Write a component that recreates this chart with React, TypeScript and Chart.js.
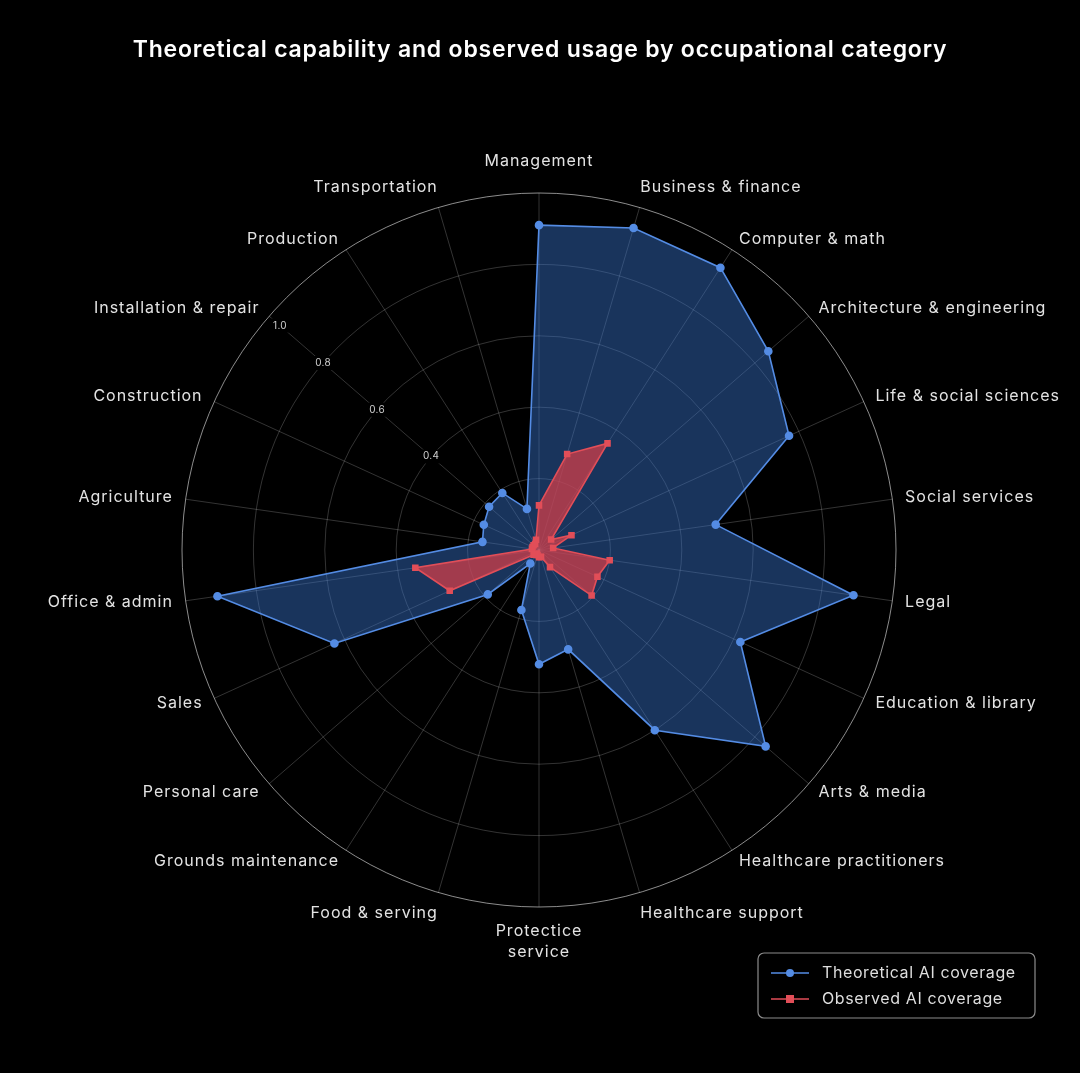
import { useEffect, useRef } from "react";
import { Chart, registerables } from "chart.js";

Chart.register(...registerables);

const titleText = "Theoretical capability and observed usage by occupational category";

const categories: (string | string[])[] = [
  "Management",
  "Business & finance",
  "Computer & math",
  "Architecture & engineering",
  "Life & social sciences",
  "Social services",
  "Legal",
  "Education & library",
  "Arts & media",
  "Healthcare practitioners",
  "Healthcare support",
  ["Protectice", "service"],
  "Food & serving",
  "Grounds maintenance",
  "Personal care",
  "Sales",
  "Office & admin",
  "Agriculture",
  "Construction",
  "Installation & repair",
  "Production",
  "Transportation",
];

const theoretical = [
  0.91, 0.94, 0.94, 0.85, 0.77, 0.5, 0.89, 0.62, 0.84, 0.6, 0.29, 0.32, 0.175,
  0.045, 0.19, 0.63, 0.91, 0.16, 0.17, 0.185, 0.19, 0.12,
];

const observed = [
  0.125, 0.28, 0.355, 0.045, 0.1, 0.04, 0.2, 0.18, 0.195, 0.057, 0.02, 0.02,
  0.015, 0.012, 0.02, 0.275, 0.35, 0.02, 0.02, 0.02, 0.02, 0.03,
];

const tickValues = [0.4, 0.6, 0.8, 1.0];
const tickLabels = ["0.4", "0.6", "0.8", "1.0"];
const seriesNames = ["Theoretical AI coverage", "Observed AI coverage"];

const BLUE = "rgb(84,140,228)";
const BLUE_FILL = "rgba(55,115,205,0.45)";
const RED = "rgb(226,78,88)";
const RED_FILL = "rgba(215,62,72,0.72)";
const FONT = "Inter, 'Noto Sans', sans-serif";

const setSpacing = (ctx: any, v: string) => {
  if ("letterSpacing" in ctx) ctx.letterSpacing = v;
};

const decorPlugin = {
  id: "decor",
  afterDraw(chart: any) {
    const ctx: CanvasRenderingContext2D = chart.ctx;
    const scale = chart.scales.r;
    const n = categories.length;
    ctx.save();

    // title
    ctx.font = `600 23px ${FONT}`;
    setSpacing(ctx, "0.8px");
    ctx.fillStyle = "#ffffff";
    ctx.textAlign = "center";
    ctx.textBaseline = "middle";
    ctx.fillText(titleText, chart.width / 2, 50);

    // point labels
    const R = scale.drawingArea * 1.036;
    ctx.font = `16px ${FONT}`;
    setSpacing(ctx, "1px");
    ctx.fillStyle = "#e3e3e3";
    ctx.textBaseline = "middle";
    const lh = 21;
    categories.forEach((lab, i) => {
      const p = scale.getPointPosition(i, R);
      const ang = (2 * Math.PI * i) / n;
      const s = Math.sin(ang);
      const c = Math.cos(ang);
      const lines = Array.isArray(lab) ? lab : [lab];
      if (Math.abs(s) < 1e-6) {
        ctx.textAlign = "center";
        if (c > 0) {
          const yLast = p.y - 19;
          lines.forEach((t, k) => ctx.fillText(t, p.x, yLast - (lines.length - 1 - k) * lh));
        } else {
          const yFirst = p.y + 11;
          lines.forEach((t, k) => ctx.fillText(t, p.x, yFirst + k * lh));
        }
      } else {
        ctx.textAlign = s > 0 ? "left" : "right";
        const yc = p.y - (Math.abs(c) > 0.9 ? Math.sign(c) * 8 : 0);
        const xx = p.x + (Math.abs(c) > 0.9 ? Math.sign(s) * -3 : 0);
        lines.forEach((t, k) => ctx.fillText(t, xx, yc + (k - (lines.length - 1) / 2) * lh));
      }
    });

    // tick labels along the "Installation & repair" spoke
    const tickIdx = 19;
    ctx.font = `10px ${FONT}`;
    setSpacing(ctx, "0.3px");
    ctx.textAlign = "center";
    ctx.textBaseline = "middle";
    tickValues.forEach((v, k) => {
      const d = scale.getDistanceFromCenterForValue(v >= 1 ? 0.96 : v);
      const p = scale.getPointPosition(tickIdx, d);
      const w = ctx.measureText(tickLabels[k]).width + 6;
      ctx.fillStyle = "#000";
      ctx.fillRect(p.x - w / 2, p.y - 7, w, 14);
      ctx.fillStyle = "#cfcfcf";
      ctx.fillText(tickLabels[k], p.x, p.y);
    });

    // legend
    const bx = 758, by = 953, bw = 277, bh = 65;
    ctx.beginPath();
    if ((ctx as any).roundRect) (ctx as any).roundRect(bx, by, bw, bh, 6);
    else ctx.rect(bx, by, bw, bh);
    ctx.fillStyle = "#000";
    ctx.fill();
    ctx.strokeStyle = "rgba(255,255,255,0.55)";
    ctx.lineWidth = 1.2;
    ctx.stroke();
    const rows = [973, 999];
    const colors = [BLUE, RED];
    ctx.font = `16px ${FONT}`;
    setSpacing(ctx, "0.6px");
    ctx.textAlign = "left";
    ctx.textBaseline = "middle";
    rows.forEach((y, k) => {
      ctx.strokeStyle = colors[k];
      ctx.lineWidth = 1.5;
      ctx.beginPath();
      ctx.moveTo(771, y);
      ctx.lineTo(809, y);
      ctx.stroke();
      ctx.fillStyle = colors[k];
      if (k === 0) {
        ctx.beginPath();
        ctx.arc(790, y, 4, 0, Math.PI * 2);
        ctx.fill();
      } else {
        ctx.fillRect(786, y - 4, 8, 8);
      }
      ctx.fillStyle = "#dedede";
      ctx.fillText(seriesNames[k], 822, y);
    });
    ctx.restore();
  },
};

export default function App() {
  const ref = useRef<HTMLCanvasElement | null>(null);
  useEffect(() => {
    if (!ref.current) return;
    const chart = new Chart(ref.current, {
      type: "radar",
      data: {
        labels: categories as any,
        datasets: [
          {
            label: seriesNames[0],
            data: theoretical,
            borderColor: BLUE,
            backgroundColor: BLUE_FILL,
            pointBackgroundColor: BLUE,
            pointBorderColor: BLUE,
            pointRadius: 3.5,
            pointStyle: "circle",
            borderWidth: 1.6,
            fill: true,
            order: 2,
          },
          {
            label: seriesNames[1],
            data: observed,
            borderColor: RED,
            backgroundColor: RED_FILL,
            pointBackgroundColor: RED,
            pointBorderColor: RED,
            pointRadius: 3.5,
            pointStyle: "rect",
            borderWidth: 1.6,
            fill: true,
            order: 1,
          },
        ],
      },
      options: {
        animation: false,
        responsive: true,
        maintainAspectRatio: false,
        layout: { padding: { left: 182, right: 183, top: 193.4, bottom: 164.6 } },
        plugins: {
          legend: { display: false },
          tooltip: { enabled: false },
          title: { display: false },
        },
        scales: {
          r: {
            min: 0,
            max: 1,
            ticks: { display: false, stepSize: 0.2 },
            pointLabels: { display: false },
            grid: {
              circular: true,
              color: (c: any) =>
                c.tick && c.tick.value >= 1 ? "rgba(255,255,255,0.55)" : "rgba(255,255,255,0.2)",
              lineWidth: 1,
            },
            angleLines: { color: "rgba(255,255,255,0.2)", lineWidth: 1 },
          },
        },
      },
      plugins: [decorPlugin],
    });
    return () => chart.destroy();
  }, []);
  return (
    <div
      style={{
        position: "fixed",
        left: 0,
        top: 0,
        width: 1080,
        height: 1073,
        background: "#000",
      }}
    >
      <canvas ref={ref} />
    </div>
  );
}
